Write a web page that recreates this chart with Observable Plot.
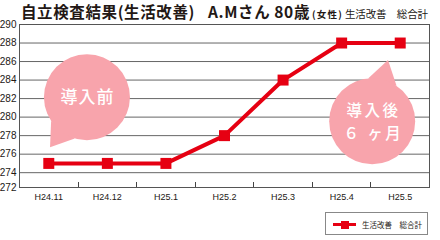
<!DOCTYPE html>
<html><head><meta charset="utf-8">
<script src="https://cdn.jsdelivr.net/npm/d3@7"></script>
<script src="https://cdn.jsdelivr.net/npm/@observablehq/plot@0.6"></script>
<style>
body{margin:0;background:#fff;}
#wrap{position:relative;width:440px;height:240px;overflow:hidden;font-family:"Noto Sans CJK JP",sans-serif;}
#wrap svg{position:absolute;left:0;top:0;}
#title{position:absolute;left:21px;top:1px;white-space:nowrap;line-height:21px;color:#231815;}
#title span{display:inline-block;white-space:pre;}
.t1{font-size:15.5px;font-weight:bold;}
.t2{font-size:15.5px;font-weight:bold;}
.t3{font-size:9.5px;font-weight:bold;}
.t4{font-size:10.5px;}
#legend{position:absolute;left:325px;top:212px;width:101px;height:21px;border:1px solid #888;background:#fff;}
#legend .sw-line{position:absolute;left:7px;top:10px;width:23px;height:3px;background:#e60012;}
#legend .sw-sq{position:absolute;left:15px;top:7.5px;width:8px;height:8px;background:#e60012;}
#legend .lt{position:absolute;left:36px;top:7px;font-size:7.5px;line-height:9px;white-space:pre;color:#231815;}
</style></head><body>
<div id="wrap">
  <div id="title"><span class="t1">自立検査結果(生活改善)</span><span class="t2">A.Mさん 80歳</span><span class="t3">(女性)</span><span class="t4">生活改善　総合計</span></div>
  <div id="legend"><div class="sw-line"></div><div class="sw-sq"></div><span class="lt">生活改善　総合計</span></div>
</div>
<script>
const categories = ["H24.11", "H24.12", "H25.1", "H25.2", "H25.3", "H25.4", "H25.5"];
const values = [275, 275, 275, 278, 284, 288, 288];
const yTicks = [274, 276, 278, 280, 282, 284, 286, 288, 290];
const yMin = 272.4;
const yMinLabel = "272";
const yMax = 290;
const bubbleLabels = [["導入前"], ["導入後", "６ ヶ月"]];
const bubbleX = [0.66, 5.53];
const bubbleY = [282.1, 279.5];
const tipX = [0.03, 5.80];
const tipY = [276.7, 286.1];

const red = "#e60012";
const pink = "#f8a4ac";
const data = categories.map((c, i) => ({i, c, v: values[i]}));

function annotations(index, scales, channels, dims) {
  const g = d3.create("svg:g");
  const yb = dims.height - dims.marginBottom;
  for (let i = 0; i < categories.length - 1; i++) {
    const px = Math.round(scales.x(i + 0.5)) + 0.5;
    g.append("line").attr("x1", px).attr("x2", px).attr("y1", yb).attr("y2", yb - 5)
      .attr("stroke", "#444").attr("stroke-width", 1);
  }
  const R = 43;
  bubbleLabels.forEach((lines, k) => {
    const cx = scales.x(bubbleX[k]), cy = scales.y(bubbleY[k]);
    const tx = scales.x(tipX[k]), ty = scales.y(tipY[k]);
    const a = Math.atan2(ty - cy, tx - cx);
    const s = 20 * Math.PI / 180;
    const p1 = [cx + R * Math.cos(a - s), cy + R * Math.sin(a - s)];
    const p2 = [cx + R * Math.cos(a + s), cy + R * Math.sin(a + s)];
    g.append("path").attr("d", `M${p1[0]},${p1[1]}L${tx},${ty}L${p2[0]},${p2[1]}Z`).attr("fill", pink);
    g.append("circle").attr("cx", cx).attr("cy", cy).attr("r", R).attr("fill", pink);
    const multi = lines.length > 1;
    const fs = multi ? 15.5 : 17, lh = 22.5;
    const t = g.append("text").attr("text-anchor", "middle").attr("fill", "#fff")
      .attr("font-family", "'Noto Sans CJK JP', sans-serif").attr("font-size", fs)
      .attr("font-weight", 500).attr("letter-spacing", multi ? 2.5 : 1);
    const y0 = multi ? cy - 11 + 6 : cy + 6;
    lines.forEach((l, j) => t.append("tspan").attr("x", cx + (multi ? 1.2 : 0.5)).attr("y", y0 + j * lh).text(l));
  });
  return g.node();
}

const plot = Plot.plot({
  width: 440,
  height: 240,
  marginTop: 24,
  marginRight: 11,
  marginBottom: 53,
  marginLeft: 19,
  style: {fontFamily: "'Liberation Sans', Arial, sans-serif", color: "#231815", background: "transparent"},
  x: {domain: [-0.5, categories.length - 0.5]},
  y: {domain: [yMin, yMax]},
  marks: [
    Plot.ruleY(yTicks.filter(d => d < yMax), {stroke: "#666", strokeWidth: 1}),
    annotations,
    Plot.frame({stroke: "#555"}),
    Plot.axisY([yMin, ...yTicks], {label: null, tickSize: 0, tickPadding: 3, fontSize: 10, tickFormat: d => d === yMin ? yMinLabel : String(d)}),
    Plot.axisX(d3.range(categories.length), {label: null, tickSize: 0, tickPadding: 6, fontSize: 9, tickFormat: i => categories[i]}),
    Plot.line(data, {x: "i", y: "v", stroke: red, strokeWidth: 4}),
    Plot.dot(data, {x: "i", y: "v", symbol: "square", r: 6.2, fill: red})
  ]
});
document.getElementById("wrap").insertBefore(plot, document.getElementById("title"));

// fit the title segments to the widths they take in the reference
const titleStarts = [21, 208, 312, 345];
const titleEnds = [195, 310, 343, 428];
document.querySelectorAll("#title span").forEach((el, k) => {
  const w = el.getBoundingClientRect().width;
  const n = [...el.textContent].length;
  el.style.letterSpacing = ((titleEnds[k] - titleStarts[k] - w) / n) + "px";
  const next = k + 1 < titleStarts.length ? titleStarts[k + 1] : 440;
  el.style.width = (next - titleStarts[k]) + "px";
});
</script>
</body></html>
